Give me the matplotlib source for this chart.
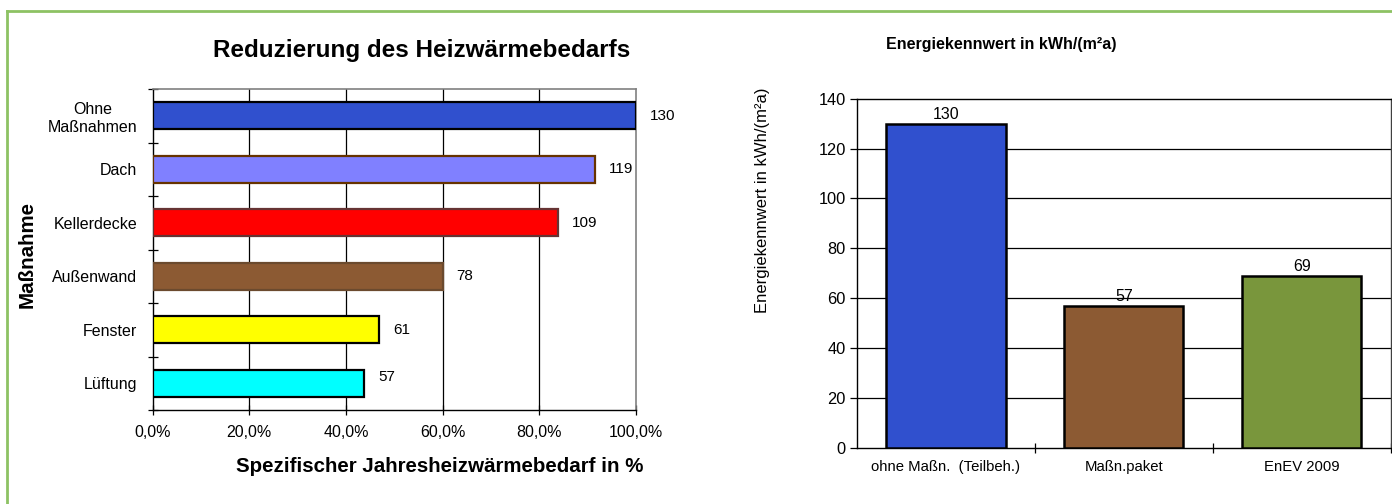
import matplotlib
matplotlib.use("Agg")
import matplotlib.pyplot as plt
from matplotlib.lines import Line2D
from matplotlib.ticker import FixedLocator, NullFormatter

plt.rcParams['font.family'] = ['Liberation Sans', 'DejaVu Sans']

# Left chart: heating demand per measure (kWh/(m²a)), shown relative to the baseline
measures = ["Ohne\nMaßnahmen", "Dach", "Kellerdecke", "Außenwand", "Fenster", "Lüftung"]
demand = [130, 119, 109, 78, 61, 57]
bar_colors = ["#3050CE", "#8080FF", "#FF0000", "#8C5A33", "#FFFF00", "#00FFFF"]
edge_colors = ["#000000", "#663300", "#663333", "#6B4A2E", "#000000", "#000000"]
pct_ticks = [0.0, 0.2, 0.4, 0.6, 0.8, 1.0]
pct_labels = ["0,0%", "20,0%", "40,0%", "60,0%", "80,0%", "100,0%"]

# Right chart: energy indicator comparison
variants = ["ohne Maßn.  (Teilbeh.)", "Maßn.paket", "EnEV 2009"]
energy = [130, 57, 69]
variant_colors = ["#3050CE", "#8C5A33", "#79963C"]
energy_ticks = [0, 20, 40, 60, 80, 100, 120, 140]

W, H = 1392, 504
fig = plt.figure(figsize=(W / 100, H / 100), dpi=100)
fig.patch.set_facecolor("white")

# Green frame lines (top and left)
frame_c = "#8DC263"
fig.add_artist(Line2D([7 / W, 1.0], [1 - 11 / H, 1 - 11 / H], color=frame_c, lw=2,
                      transform=fig.transFigure))
fig.add_artist(Line2D([7 / W, 7 / W], [1 - 11 / H, 0.0], color=frame_c, lw=2,
                      transform=fig.transFigure))

# ---------------- Left chart ----------------
ax1 = fig.add_axes([152.7 / W, 1 - 410 / H, (635.7 - 152.7) / W, (410 - 89) / H])
base = demand[0]
shares = [d / base for d in demand]
ypos = list(range(len(measures)))
ax1.barh(ypos, shares, height=0.5, color=bar_colors, edgecolor=edge_colors,
         linewidth=1.6, zorder=3)
ax1.set_xlim(0, 1.0)
ax1.set_ylim(len(measures) - 0.5, -0.5)

for x in pct_ticks[1:-1]:
    ax1.axvline(x, color="#000000", lw=0.9, zorder=1)

ax1.xaxis.set_major_locator(FixedLocator(pct_ticks))
ax1.set_xticklabels(pct_labels, fontsize=11.5)
ax1.tick_params(axis="x", direction="inout", length=7, width=0.9, pad=7)

ax1.yaxis.set_major_locator(FixedLocator(ypos))
ax1.set_yticklabels(measures, fontsize=11.5, multialignment="center")
ax1.yaxis.set_minor_locator(FixedLocator([i - 0.5 for i in range(len(measures) + 1)]))
ax1.yaxis.set_minor_formatter(NullFormatter())
ax1.tick_params(axis="y", which="major", length=0, pad=11)
ax1.tick_params(axis="y", which="minor", direction="inout", length=7, width=0.9)

for side in ["left", "bottom"]:
    ax1.spines[side].set_color("#000000")
    ax1.spines[side].set_linewidth(1.0)
for side in ["top", "right"]:
    ax1.spines[side].set_color("#808080")
    ax1.spines[side].set_linewidth(1.2)

for i, (s, d) in enumerate(zip(shares, demand)):
    dy = -0.12 if i == len(demand) - 1 else 0.0
    ax1.annotate(str(d), xy=(s, i + dy), xytext=(10, 0), textcoords="offset points",
                 va="center", ha="left", fontsize=11)

fig.text(422 / W, 1 - 51 / H, "Reduzierung des Heizwärmebedarfs", ha="center",
         va="center", fontsize=17.5, fontweight="bold")
fig.text(440 / W, 1 - 467 / H, "Spezifischer Jahresheizwärmebedarf in %", ha="center",
         va="center", fontsize=14.8, fontweight="bold")
fig.text(27 / W, 1 - 255 / H, "Maßnahme", ha="center", va="center", rotation=90,
         fontsize=14.8, fontweight="bold")

# ---------------- Right chart ----------------
ax2 = fig.add_axes([857 / W, 1 - 447.7 / H, (1390.7 - 857) / W, (447.7 - 98.7) / H])
xpos = list(range(len(variants)))
ax2.bar(xpos, energy, width=0.67, color=variant_colors, edgecolor="#000000",
        linewidth=1.8, zorder=3)
ax2.set_xlim(-0.5, len(variants) - 0.5)
ax2.set_ylim(0, 140)

for y in energy_ticks[1:-1]:
    ax2.axhline(y, color="#000000", lw=0.9, zorder=1)

ax2.yaxis.set_major_locator(FixedLocator(energy_ticks))
ax2.set_yticklabels([str(t) for t in energy_ticks], fontsize=11.8)
ax2.tick_params(axis="y", direction="out", length=5, width=0.9, pad=3)

ax2.xaxis.set_major_locator(FixedLocator(xpos))
ax2.set_xticklabels(variants, fontsize=10.7)
ax2.xaxis.set_minor_locator(FixedLocator([i + 0.5 for i in range(len(variants))]))
ax2.xaxis.set_minor_formatter(NullFormatter())
ax2.tick_params(axis="x", which="major", length=0, pad=9)
ax2.tick_params(axis="x", which="minor", direction="inout", length=7, width=0.9)

for side in ["left", "bottom", "top"]:
    ax2.spines[side].set_color("#000000")
    ax2.spines[side].set_linewidth(1.0)
ax2.spines["right"].set_color("#404040")
ax2.spines["right"].set_linewidth(1.0)

for i, v in enumerate(energy):
    ax2.annotate(str(v), xy=(i, v), xytext=(0, 1), textcoords="offset points",
                 va="bottom", ha="center", fontsize=11.5)

fig.text(1001 / W, 1 - 44 / H, "Energiekennwert in kWh/(m²a)", ha="center",
         va="center", fontsize=11.5, fontweight="bold")
fig.text(763 / W, 1 - 200 / H, "Energiekennwert in kWh/(m²a)", ha="center",
         va="center", rotation=90, fontsize=12)

fig.savefig("out.png", dpi=100, facecolor="white")
